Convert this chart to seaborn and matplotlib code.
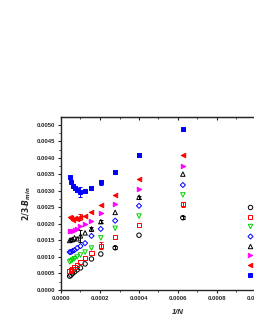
import numpy as np
import pandas as pd
import seaborn as sns
import matplotlib
matplotlib.use("Agg")
import matplotlib.pyplot as plt
from matplotlib.lines import Line2D
from matplotlib.ticker import MultipleLocator, FormatStrFormatter

# lattice sizes N, x axis is 1/N
N = [1600, 2500, 3600, 4900, 6400, 8100, 10000, 12100, 14400, 16900, 19600, 22500]

# 2/3 - B_min for each series
blue_sq = [0.00488, 0.00409, 0.00357, 0.00326, 0.00309, 0.00299, 0.00297, 0.00302, 0.00309, 0.00316, 0.00327, 0.003415]
red_lt = [0.00409, 0.00335, 0.00288, 0.00258, 0.00237, 0.00224, 0.00221, 0.00215, 0.00218, 0.00212, 0.00218, 0.00221]
mag_rt = [0.00377, 0.00305, 0.00260, 0.00232, 0.00210, 0.00200, 0.00194, 0.00185, 0.00182, 0.00179, 0.00179, 0.00179]
blk_up = [0.00351, 0.00281, 0.00235, 0.00207, 0.00185, 0.00173, 0.00164, 0.00155, 0.00158, 0.00153, 0.00152, 0.00150]
blue_di = [0.00318, 0.00255, 0.00210, 0.00185, 0.00164, 0.00142, 0.00133, 0.00127, 0.00121, 0.00118, 0.00115, 0.00115]
green_dn = [0.00288, 0.00224, 0.00187, 0.00158, 0.00127, 0.00115, 0.00106, 0.00100, 0.00095, 0.00091, 0.00088, 0.00085]
red_sq = [0.00260, 0.00197, 0.00160, 0.00134, 0.00112, 0.00097, 0.00085, 0.00076, 0.00070, 0.00064, 0.00061, 0.00058]
blk_ci = [0.00219, 0.00166, 0.00128, 0.00109, 0.00094, 0.00079, 0.00067, 0.00061, 0.00055, 0.00050, 0.00045, 0.00042]

# error bars (zero where none visible)
err_blue_sq = [0, 0.00006, 0, 0.00007, 0, 0, 0.00015, 0, 0, 0, 0, 0]
err_red_lt = [0, 0, 0, 0, 0, 0, 0.00010, 0, 0, 0, 0, 0]
err_blk_up = [0, 0.00005, 0, 0.00005, 0.00007, 0, 0.00018, 0, 0, 0, 0, 0]
err_red_sq = [0.00008, 0, 0, 0.00010, 0, 0, 0, 0, 0, 0, 0, 0]
err_blk_ci = [0.00005, 0, 0.00005, 0, 0, 0, 0, 0, 0, 0, 0, 0]
zeros = [0] * len(N)

labels = ["h = 0.1", "h = 0.2", "h = 0.3", "h = 0.4", "h = 0.5", "h = 0.6", "h = 0.7", "h = 0.8"]

# (values, errors, marker, colour, filled) in legend order
series = [
    (blk_ci, err_blk_ci, 'o', 'black', False),
    (red_sq, err_red_sq, 's', '#FF0000', False),
    (green_dn, zeros, 'v', '#00D000', False),
    (blue_di, zeros, 'D', '#0000FF', False),
    (blk_up, err_blk_up, '^', 'black', False),
    (mag_rt, zeros, '>', '#FF00FF', True),
    (red_lt, err_red_lt, '<', '#FF0000', True),
    (blue_sq, err_blue_sq, 's', '#0000FF', True),
]

sns.set_style("ticks")
plt.rcParams['font.family'] = ['Liberation Sans', 'DejaVu Sans']
plt.rcParams['font.weight'] = 'bold'

fig = plt.figure(figsize=(2.55, 3.30), dpi=100)
ax = fig.add_axes([61 / 255, 40 / 330, 234 / 255, 173 / 330])

x = 1.0 / np.array(N)
handles = []
for lab, (vals, errs, mk, col, filled) in zip(labels, series):
    df = pd.DataFrame({'x': x, 'y': vals, 'e': errs})
    msz = 2.6 if mk == 'D' else 3.2
    sns.scatterplot(data=df, x='x', y='y', ax=ax, marker=mk, s=msz ** 2,
                    facecolor=col if filled else 'none', edgecolor=col,
                    linewidth=0.7, zorder=3, legend=False)
    eb = df[df['e'] > 0]
    ax.errorbar(eb['x'], eb['y'], yerr=eb['e'], fmt='none', ecolor=col,
                elinewidth=0.7, capsize=1.5, capthick=0.7, zorder=2)
    handles.append(Line2D([], [], ls='none', marker=mk, markersize=msz,
                          markerfacecolor=col if filled else 'none',
                          markeredgecolor=col, markeredgewidth=0.7, label=lab))

ax.set_xlim(0, 0.0012)
ax.set_ylim(0, 0.00524)
ax.xaxis.set_major_locator(MultipleLocator(0.0002))
ax.xaxis.set_minor_locator(MultipleLocator(0.0001))
ax.yaxis.set_major_locator(MultipleLocator(0.0005))
ax.yaxis.set_minor_locator(MultipleLocator(0.00025))
ax.xaxis.set_major_formatter(FormatStrFormatter('%.4f'))
ax.yaxis.set_major_formatter(FormatStrFormatter('%.4f'))
ax.tick_params(which='major', direction='out', length=2.5, width=0.8, labelsize=4.3, pad=1.5)
ax.tick_params(which='minor', direction='out', length=1.5, width=0.6)
for s in ax.spines.values():
    s.set_linewidth(1.0)

top = ax.secondary_xaxis('top')
top.xaxis.set_major_locator(MultipleLocator(0.0002))
top.xaxis.set_minor_locator(MultipleLocator(0.0001))
top.tick_params(which='major', direction='in', length=2.5, width=0.8, labeltop=False)
top.tick_params(which='minor', direction='in', length=1.5, width=0.6)

ax.set_xlabel('1/N', fontsize=5.5, style='italic', fontweight='bold', labelpad=6)
ax.set_ylabel(r'$\mathbf{\mathit{2/3}}$-$\mathbf{\mathit{B}_{\mathit{min}}}$', fontsize=5.5, labelpad=3)

fig.legend(handles=handles, loc='upper left', bbox_to_anchor=(248 / 255, 1 - 205 / 330),
           frameon=False, fontsize=4.3, handlelength=0.8, handletextpad=0.4,
           labelspacing=0.75, borderpad=0, borderaxespad=0)

fig.savefig('out.png', dpi=100)
